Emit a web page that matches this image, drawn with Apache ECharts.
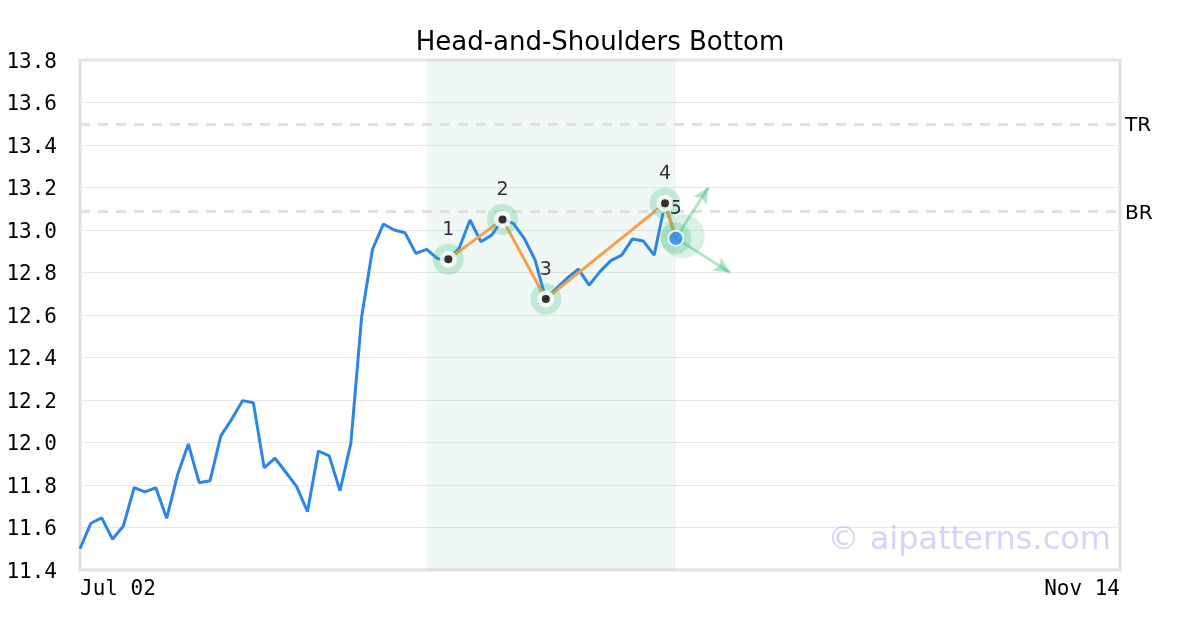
<!DOCTYPE html>
<html>
<head>
<meta charset="utf-8">
<script src="https://cdn.jsdelivr.net/npm/echarts@6/dist/echarts.min.js"></script>
<style>
html,body{margin:0;padding:0;background:#fff;}
#chart{width:1200px;height:630px;}
</style>
</head>
<body>
<div id="chart"></div>
<script>
// ---- data ----
const titleText = 'Head-and-Shoulders Bottom';
const slotCount = 97;
const firstLabel = 'Jul 02';
const lastLabel = 'Nov 14';
const categories = Array.from({length: slotCount}, (_, i) =>
  i === 0 ? firstLabel : (i === slotCount - 1 ? lastLabel : 'T' + i));

const priceValues = [
  11.50, 11.62, 11.645, 11.545, 11.607, 11.787, 11.768, 11.787, 11.643, 11.847,
  11.993, 11.811, 11.82, 12.031, 12.109, 12.197, 12.187, 11.881, 11.926, 11.86,
  11.792, 11.674, 11.96, 11.937, 11.773, 11.996, 12.592, 12.909, 13.028, 13.0,
  12.987, 12.89, 12.909, 12.865, 12.862, 12.914, 13.047, 12.945, 12.976, 13.05,
  13.031, 12.961, 12.86, 12.675, 12.725, 12.775, 12.816, 12.741, 12.804, 12.856,
  12.882, 12.958, 12.948, 12.882, 13.126, 12.961
];

const patternIdx = [34, 39, 43, 54, 55];
const patternVals = [12.862, 13.05, 12.675, 13.126, 12.961];
const patternLabels = ['1', '2', '3', '4', '5'];

const levelNames = ['TR', 'BR'];
const levelValues = [13.5, 13.085];

const shadeRange = [32, 55];
const projUp = [58, 13.2];
const projDown = [60, 12.8];

const yMin = 11.4, yMax = 13.8, yStep = 0.2;

// ---- chart ----
const chart = echarts.init(document.getElementById('chart'), null, {renderer: 'canvas'});
const pts = patternIdx.map((x, i) => [x, patternVals[i]]);
const last = pts[pts.length - 1];
const green = 'rgba(46,184,114,0.30)';

const option = {
  animation: false,
  backgroundColor: '#ffffff',
  title: {
    text: titleText, left: 'center', top: 25,
    textStyle: {fontFamily: 'DejaVu Sans', fontSize: 26, fontWeight: 'normal', color: '#000'}
  },
  grid: {left: 80, right: 80, top: 60, bottom: 60, show: true,
         borderColor: '#e0e0e0', borderWidth: 3, backgroundColor: 'transparent'},
  xAxis: {
    type: 'category', data: categories, boundaryGap: false,
    axisLine: {show: false}, axisTick: {show: false}, splitLine: {show: false},
    axisLabel: {
      interval: (i) => i === 0 || i === slotCount - 1,
      alignMinLabel: 'left', alignMaxLabel: 'right',
      formatter: (v) => v,
      fontFamily: 'DejaVu Sans Mono', fontSize: 21, color: '#000', margin: 9
    }
  },
  yAxis: {
    type: 'value', min: yMin, max: yMax, interval: yStep,
    axisLine: {show: false}, axisTick: {show: false},
    splitLine: {lineStyle: {color: '#e8e8e8', width: 1}},
    axisLabel: {
      formatter: (v) => '{v|' + v.toFixed(1) + '}',
      margin: 23,
      rich: {v: {fontFamily: 'DejaVu Sans Mono', fontSize: 21, color: '#000', padding: [5, 0, 0, 0]}}
    }
  },
  graphic: [{
    type: 'text', right: 89, top: 525, z: 1,
    style: {text: '\u00a9 aipatterns.com', font: '32px "DejaVu Sans"', fill: 'rgba(110,95,245,0.28)'}
  }],
  series: [
    {
      name: 'price', type: 'line', data: priceValues, showSymbol: false, z: 3,
      lineStyle: {color: '#2b86e6', width: 3}, itemStyle: {color: '#2b86e6'},
      markArea: {
        silent: true,
        itemStyle: {color: 'rgba(76,175,130,0.09)'},
        data: [[{xAxis: categories[shadeRange[0]]}, {xAxis: categories[shadeRange[1]]}]]
      },
      markLine: {
        silent: true, symbol: 'none',
        lineStyle: {color: '#e0e0e0', width: 3, type: [10, 8]},
        label: {position: 'end', formatter: '{t|{b}}', distance: 5,
                rich: {t: {fontFamily: 'DejaVu Sans', fontSize: 20, color: '#000', padding: [5, 0, 0, 0]}}},
        data: levelNames.map((n, i) => ({name: n, yAxis: levelValues[i]}))
      }
    },
    {
      name: 'pattern', type: 'line', data: pts, showSymbol: false, z: 4,
      lineStyle: {color: '#f7a04b', width: 3}, itemStyle: {color: '#f7a04b'}
    },
    {
      name: 'bigHalo', type: 'scatter', data: [last], symbolSize: 44, symbolOffset: [7, -2], z: 4,
      itemStyle: {color: 'rgba(46,184,114,0.22)'}
    },
    {
      name: 'halo', type: 'scatter', data: pts, symbolSize: 31, z: 5,
      itemStyle: {color: green},
      label: {show: true, position: 'top', distance: 4, formatter: (p) => patternLabels[p.dataIndex],
              fontFamily: 'DejaVu Sans', fontSize: 19, color: '#000'}
    },
    {
      name: 'arrows', type: 'line', data: [], z: 5,
      markLine: {
        silent: true, symbol: ['none', 'arrow'], symbolSize: [12, 16],
        lineStyle: {color: 'rgba(46,184,114,0.38)', width: 3, type: 'solid'},
        label: {show: false},
        data: [
          [{coord: [categories[last[0]], last[1]]}, {coord: [categories[projUp[0]], projUp[1]]}],
          [{coord: [categories[last[0]], last[1]]}, {coord: [categories[projDown[0]], projDown[1]]}]
        ]
      }
    },
    {
      name: 'markerWhite', type: 'scatter', data: pts.slice(0, 4), symbolSize: 17, z: 6,
      itemStyle: {color: '#ffffff'}
    },
    {
      name: 'markerDot', type: 'scatter', data: pts.slice(0, 4), symbolSize: 8, z: 7,
      itemStyle: {color: '#000000'}
    },
    {
      name: 'lastDot', type: 'scatter', data: [last], symbolSize: 15, z: 7,
      itemStyle: {color: '#2b86e6', borderColor: '#ffffff', borderWidth: 2}
    }
  ]
};
chart.setOption(option);
</script>
</body>
</html>
